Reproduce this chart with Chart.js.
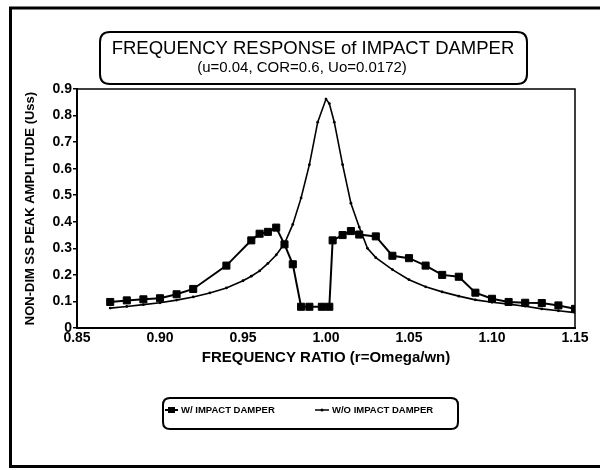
<!DOCTYPE html>
<html><head><meta charset="utf-8">
<script src="https://cdn.jsdelivr.net/npm/chart.js@4.4.1/dist/chart.umd.min.js"></script>
<style>html,body{margin:0;padding:0;background:#fff;}#wrap{width:600px;height:470px;}</style>
</head><body><div id="wrap"><canvas id="c" width="600" height="470"></canvas></div>
<script>
// ---- data ----
const withX = [0.87,0.88,0.89,0.90,0.91,0.92,0.94,0.955,0.96,0.965,0.97,0.975,0.98,0.985,0.99,0.9975,1.002,1.004,1.01,1.015,1.02,1.03,1.04,1.05,1.06,1.07,1.08,1.09,1.10,1.11,1.12,1.13,1.14,1.15];
const withY = [0.098,0.104,0.108,0.112,0.127,0.147,0.235,0.33,0.355,0.362,0.378,0.315,0.24,0.08,0.08,0.08,0.08,0.33,0.35,0.365,0.352,0.345,0.272,0.263,0.235,0.2,0.193,0.133,0.11,0.098,0.095,0.094,0.085,0.072];
const noX = [0.87,0.88,0.89,0.90,0.91,0.92,0.93,0.94,0.95,0.955,0.96,0.965,0.97,0.975,0.98,0.985,0.99,0.995,1.00,1.002,1.005,1.01,1.015,1.02,1.025,1.03,1.04,1.05,1.06,1.07,1.08,1.09,1.10,1.11,1.12,1.13,1.14,1.15];
const noY = [0.075,0.081,0.088,0.095,0.105,0.117,0.132,0.151,0.178,0.195,0.215,0.243,0.275,0.318,0.39,0.49,0.615,0.775,0.862,0.845,0.775,0.615,0.47,0.38,0.3,0.265,0.22,0.182,0.155,0.136,0.12,0.106,0.097,0.09,0.082,0.072,0.065,0.058];
const seriesLabels = ["W/ IMPACT DAMPER", "W/O IMPACT DAMPER"];
const titleText = "FREQUENCY RESPONSE of IMPACT DAMPER";
const subtitleText = "(u=0.04, COR=0.6, Uo=0.0172)";
const xTitle = "FREQUENCY RATIO (r=Omega/wn)";
const yTitle = "NON-DIM SS PEAK AMPLITUDE (Uss)";

const FONT = "'Liberation Sans', Arial, Helvetica, sans-serif";
const toPts = (xs, ys) => xs.map((x, i) => ({x: x, y: ys[i]}));

function rr(ctx, x, y, w, h, r) {
  ctx.beginPath();
  ctx.moveTo(x + r, y);
  ctx.lineTo(x + w - r, y); ctx.quadraticCurveTo(x + w, y, x + w, y + r);
  ctx.lineTo(x + w, y + h - r); ctx.quadraticCurveTo(x + w, y + h, x + w - r, y + h);
  ctx.lineTo(x + r, y + h); ctx.quadraticCurveTo(x, y + h, x, y + h - r);
  ctx.lineTo(x, y + r); ctx.quadraticCurveTo(x, y, x + r, y);
  ctx.closePath();
}

const decor = {
  id: 'decor',
  afterDraw(chart) {
    const ctx = chart.ctx, a = chart.chartArea;
    ctx.save();
    ctx.strokeStyle = '#000'; ctx.fillStyle = '#000';
    // outer frame
    ctx.lineWidth = 3;
    ctx.beginPath(); ctx.moveTo(600, 8); ctx.lineTo(10.5, 8); ctx.lineTo(10.5, 466.5); ctx.lineTo(600, 466.5); ctx.stroke();
    // plot frame top / right
    ctx.lineWidth = 1.5;
    ctx.beginPath(); ctx.moveTo(a.left, a.top); ctx.lineTo(a.right, a.top); ctx.lineTo(a.right, a.bottom); ctx.stroke();
    // title box
    ctx.lineWidth = 2;
    rr(ctx, 100, 32, 427, 52, 10); ctx.stroke();
    ctx.textAlign = 'center'; ctx.textBaseline = 'middle';
    ctx.font = "18.5px " + FONT;
    ctx.fillText(titleText, 313, 49);
    ctx.font = "15px " + FONT;
    ctx.fillText(subtitleText, 302, 68);
    // legend box
    ctx.lineWidth = 2;
    rr(ctx, 163, 398, 295, 31, 7); ctx.stroke();
    const ly = 410;
    ctx.lineWidth = 2;
    ctx.beginPath(); ctx.moveTo(165, ly); ctx.lineTo(178, ly); ctx.stroke();
    ctx.fillRect(168, ly - 3, 7, 6);
    ctx.lineWidth = 1.5;
    ctx.beginPath(); ctx.moveTo(315, ly); ctx.lineTo(329, ly); ctx.stroke();
    ctx.beginPath(); ctx.arc(322, ly, 1.5, 0, Math.PI * 2); ctx.fill();
    ctx.textAlign = 'left';
    ctx.font = "bold 9.5px " + FONT;
    ctx.fillText(chart.data.datasets[0].label, 181, ly);
    ctx.fillText(chart.data.datasets[1].label, 332, ly);
    ctx.restore();
  }
};

new Chart(document.getElementById('c'), {
  type: 'line',
  data: {
    datasets: [
      {label: seriesLabels[0], data: toPts(withX, withY), borderColor: '#000', backgroundColor: '#000',
       borderWidth: 2, pointStyle: 'rect', pointRadius: 5, pointBorderWidth: 1, tension: 0},
      {label: seriesLabels[1], data: toPts(noX, noY), borderColor: '#000', backgroundColor: '#000',
       borderWidth: 1.6, pointStyle: 'circle', pointRadius: 1.4, pointBorderWidth: 0, tension: 0}
    ]
  },
  options: {
    responsive: false, animation: false, devicePixelRatio: 1,
    layout: {padding: {left: 12, right: 25, top: 89, bottom: 98}},
    plugins: {legend: {display: false}, tooltip: {enabled: false}, title: {display: false}},
    scales: {
      x: {
        type: 'linear', min: 0.85, max: 1.15,
        afterFit(s) { s.height = 44; },
        ticks: {stepSize: 0.05, color: '#000', padding: 2, maxRotation: 0,
                font: {family: FONT, size: 14, weight: 'bold'},
                callback: v => Number(v).toFixed(2)},
        grid: {display: true, drawOnChartArea: false, drawTicks: false, color: '#000'},
        border: {display: true, color: '#000', width: 2},
        title: {display: true, text: xTitle, color: '#000', padding: {top: 0, bottom: 5},
                font: {family: FONT, size: 15, weight: 'bold'}}
      },
      y: {
        type: 'linear', min: 0, max: 0.9,
        afterFit(s) { s.width = 65; },
        ticks: {stepSize: 0.1, color: '#000', padding: 1,
                font: {family: FONT, size: 14, weight: 'bold'},
                callback: v => (Math.abs(v) < 1e-9 ? '0' : Number(v).toFixed(1))},
        grid: {display: true, drawOnChartArea: false, drawTicks: true, tickLength: 4, color: '#000', lineWidth: 1.5},
        border: {display: true, color: '#000', width: 2},
        title: {display: true, text: yTitle, color: '#000', padding: {top: 11, bottom: 0},
                font: {family: FONT, size: 13, weight: 'bold'}}
      }
    }
  },
  plugins: [decor]
});
</script>
</body></html>
